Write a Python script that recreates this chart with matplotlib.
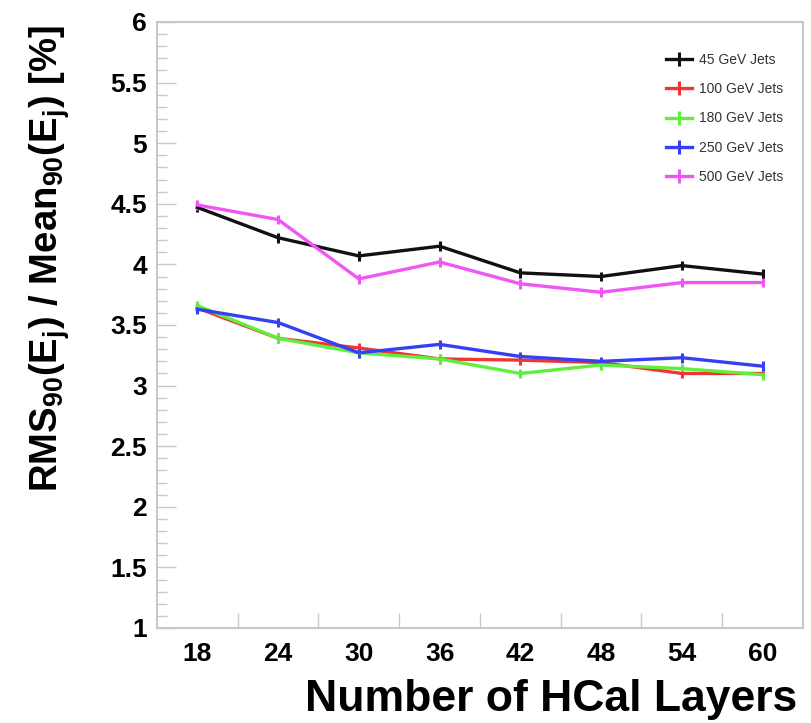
"""
Jet energy resolution vs number of HCal layers
"""

import numpy as np
import matplotlib
matplotlib.use('Agg')
import matplotlib.pyplot as plt
from matplotlib.ticker import MultipleLocator, FixedLocator

plt.rcParams['font.family'] = ['Liberation Sans', 'DejaVu Sans']
plt.rcParams['mathtext.fontset'] = 'custom'
plt.rcParams['mathtext.rm'] = 'Liberation Sans'
plt.rcParams['mathtext.bf'] = 'Liberation Sans:bold'

# ── Data ─────────────────────────────────────────────────────
layers = ['18', '24', '30', '36', '42', '48', '54', '60']

res_45 = [4.47, 4.22, 4.07, 4.15, 3.93, 3.90, 3.99, 3.92]
res_100 = [3.64, 3.39, 3.31, 3.22, 3.21, 3.19, 3.10, 3.10]
res_180 = [3.66, 3.39, 3.27, 3.22, 3.10, 3.17, 3.14, 3.09]
res_250 = [3.63, 3.52, 3.27, 3.34, 3.24, 3.20, 3.23, 3.16]
res_500 = [4.49, 4.37, 3.88, 4.02, 3.84, 3.77, 3.85, 3.85]
err = [0.04, 0.04, 0.04, 0.04, 0.04, 0.04, 0.04, 0.04]

series = [
    ('45 GeV Jets', res_45, '#111111'),
    ('100 GeV Jets', res_100, '#f03535'),
    ('180 GeV Jets', res_180, '#5ef03a'),
    ('250 GeV Jets', res_250, '#3540f5'),
    ('500 GeV Jets', res_500, '#f055f5'),
]

# ── Plot ─────────────────────────────────────────────────────
fig = plt.figure(figsize=(8.12, 7.23), dpi=100)
ax = fig.add_axes([0.1933, 0.1314, 0.7956, 0.8382])

x = np.arange(len(layers))
for label, vals, col in series:
    ax.errorbar(x, vals, yerr=err, color=col, linewidth=2.4, elinewidth=2.2,
                capsize=0, label=label)

ax.set_xlim(-0.5, len(layers) - 0.5)
ax.set_ylim(1, 6)

# bin labels at centres, tick marks at bin edges
ax.set_xticks(x)
ax.set_xticklabels(layers, fontsize=19, fontweight='bold')
ax.xaxis.set_minor_locator(FixedLocator(x[:-1] + 0.5))
ax.tick_params(axis='x', which='major', length=0, pad=10)
ax.tick_params(axis='x', which='minor', direction='in', length=11,
               width=1, color='#c8c8c8')

ax.yaxis.set_major_locator(MultipleLocator(0.5))
ax.yaxis.set_minor_locator(MultipleLocator(0.1))
ax.set_yticks(np.arange(1, 6.01, 0.5))
ax.set_yticklabels(['1', '1.5', '2', '2.5', '3', '3.5', '4', '4.5', '5', '5.5', '6'],
                   fontsize=19, fontweight='bold')
ax.tick_params(axis='y', which='major', direction='in', length=14, width=1,
               color='#c8c8c8', pad=7)
ax.tick_params(axis='y', which='minor', direction='in', length=7, width=1,
               color='#c8c8c8')

for sp in ax.spines.values():
    sp.set_color('#c8c8c8')
    sp.set_linewidth(1.5)

leg = ax.legend(loc='upper right', bbox_to_anchor=(0.985, 0.965), frameon=False,
                fontsize=10, handlelength=1.9, labelspacing=1.1,
                handletextpad=0.5, borderaxespad=0.3)
for t in leg.get_texts():
    t.set_color('#333333')

fig.text(0.061, 0.965,
         r'RMS$_{\mathbf{90}}$(E$_{\mathbf{j}}$) / Mean$_{\mathbf{90}}$(E$_{\mathbf{j}}$) [%]',
         rotation=90, ha='center', va='top', fontsize=27.5, fontweight='bold')
fig.text(0.982, 0.0165, 'Number of HCal Layers', ha='right', va='baseline',
         fontsize=32, fontweight='bold')

fig.savefig('out.png', dpi=100)
